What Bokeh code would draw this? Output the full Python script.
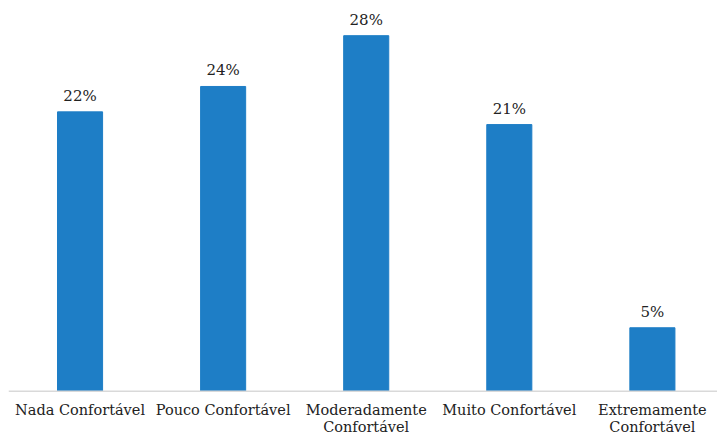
from bokeh.plotting import figure
from bokeh.models import ColumnDataSource, Range1d, Span
from bokeh.core.properties import value
from bokeh.embed import file_html
from bokeh.resources import INLINE

# Comfort level categories and share of respondents (%)
categories = ["Nada Confortável", "Pouco Confortável", "Moderadamente\nConfortável",
              "Muito Confortável", "Extremamente\nConfortável"]
shares = [22, 24, 28, 21, 5]
share_labels = [f"{v}%" for v in shares]

positions = list(range(len(categories)))
source = ColumnDataSource(data=dict(x=positions, share=shares, label=share_labels))
cat_source = ColumnDataSource(data=dict(x=positions, y=[0] * len(positions), name=categories))

FONT = "DejaVu Serif"
BAR_BLUE = "#1E7EC6"
TEXT = "#222222"

# The frame fills the whole canvas; the category labels sit below the zero line.
p = figure(width=717, height=438, output_backend="svg", toolbar_location=None,
           x_range=Range1d(-0.5, 4.455), y_range=Range1d(-3.72, 30.77),
           min_border_left=8, min_border_right=0, min_border_top=0,
           min_border_bottom=0)

p.vbar(x="x", top="share", width=0.315, source=source,
       fill_color=BAR_BLUE, line_color=BAR_BLUE)

p.add_layout(Span(location=0, dimension="width", line_color="#D9D9D9", line_width=1.5))

p.text(x="x", y="share", text="label", source=source,
       text_font=value(FONT), text_font_size="15px", text_color=TEXT,
       text_align="center", text_baseline="alphabetic", y_offset=-16)

p.text(x="x", y="y", text="name", source=cat_source,
       text_font=value(FONT), text_font_size="14.5px", text_color=TEXT,
       text_align="center", text_baseline="top", text_line_height=1.05, y_offset=11)

p.xaxis.visible = False
p.yaxis.visible = False
p.xgrid.visible = False
p.ygrid.visible = False
p.outline_line_color = None

open("out.html", "w").write(file_html(p, INLINE))
